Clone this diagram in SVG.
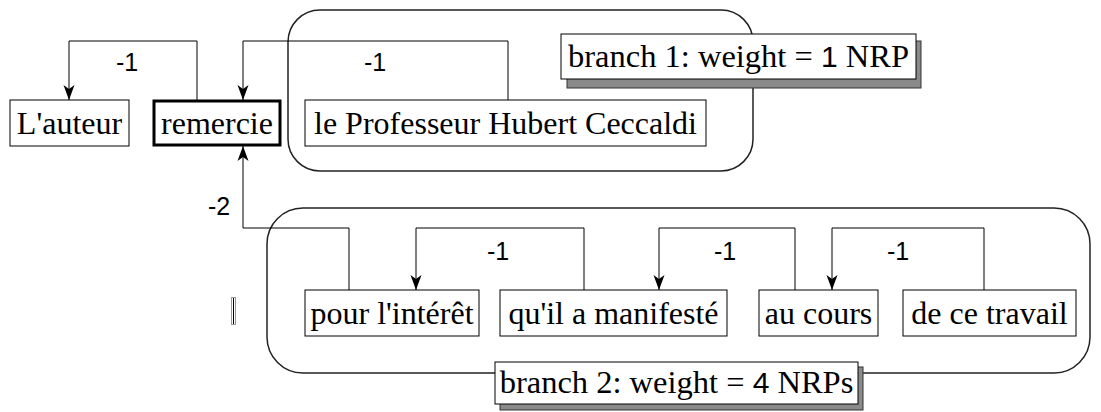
<svg xmlns="http://www.w3.org/2000/svg" width="1101" height="412" viewBox="0 0 1101 412">
  <style>
    .node rect { fill: #fff; stroke: #000; stroke-width: 1; }
    .node rect.head { stroke-width: 3; }
    .node text { font-family: "Liberation Serif", "Times New Roman", serif; font-size: 32px; fill: #000; text-anchor: middle; }
    .branch { fill: none; stroke: #222; stroke-width: 1.5; }
    .tag rect.box { fill: #fff; stroke: #000; stroke-width: 1; }
    .tag rect.shadow { fill: #8a8a8a; stroke: #333; stroke-width: 1; }
    .tag text { font-family: "Liberation Serif", "Times New Roman", serif; font-size: 32.5px; fill: #000; text-anchor: middle; }
    .tag tspan.num { font-family: "Liberation Sans", Arial, sans-serif; font-size: 30px; }
    .edge { fill: none; stroke: #000; stroke-width: 1; marker-end: url(#arrow); }
    .weight { font-family: "Liberation Sans", Arial, sans-serif; font-size: 25px; fill: #000; text-anchor: middle; }
  </style>
  <defs>
    <marker id="arrow" markerUnits="userSpaceOnUse" markerWidth="16" markerHeight="14" refX="15" refY="6" orient="auto" viewBox="0 0 16 12">
      <path d="M0,0.5 L15,6 L0,11.5 L4,6 z" fill="#000"/>
    </marker>
  </defs>

  <!-- branch enclosures -->
  <g id="branch-1-frame">
    <rect class="branch" x="288" y="10" width="465" height="161" rx="32" ry="32"/>
  </g>
  <g id="branch-2-frame">
    <rect class="branch" x="267" y="208" width="823" height="165" rx="36" ry="36"/>
  </g>

  <!-- dependency connectors -->
  <g id="connectors">
    <path class="edge" d="M197,100 V41 H69 V100"/>
    <path class="edge" d="M508,100 V41 H243 V100"/>
    <path class="edge" d="M349,290 V228 H243 V146"/>
    <path class="edge" d="M584,290 V228 H416 V290"/>
    <path class="edge" d="M795,290 V228 H659 V290"/>
    <path class="edge" d="M984,290 V228 H832 V290"/>
    <text class="weight" x="127" y="71">-1</text>
    <text class="weight" x="375" y="71">-1</text>
    <text class="weight" x="219" y="215">-2</text>
    <text class="weight" x="498" y="260">-1</text>
    <text class="weight" x="725" y="260">-1</text>
    <text class="weight" x="898" y="260">-1</text>
  </g>

  <!-- words -->
  <g id="node-auteur" class="node">
    <rect x="10" y="100" width="119" height="46"/>
    <text x="69.5" y="134">L'auteur</text>
  </g>
  <g id="node-remercie" class="node">
    <rect class="head" x="154" y="101" width="126" height="44"/>
    <text x="217" y="134">remercie</text>
  </g>
  <g id="node-professeur" class="node">
    <rect x="305" y="100" width="401" height="46"/>
    <text x="505.5" y="134">le Professeur Hubert Ceccaldi</text>
  </g>
  <g id="node-interet" class="node">
    <rect x="305" y="290" width="174" height="46"/>
    <text x="392" y="324">pour l'intérêt</text>
  </g>
  <g id="node-manifeste" class="node">
    <rect x="500" y="290" width="227" height="46"/>
    <text x="613.5" y="324">qu'il a manifesté</text>
  </g>
  <g id="node-cours" class="node">
    <rect x="759" y="290" width="119" height="46"/>
    <text x="818.5" y="324">au cours</text>
  </g>
  <g id="node-travail" class="node">
    <rect x="903" y="290" width="173" height="46"/>
    <text x="989.5" y="324">de ce travail</text>
  </g>

  <!-- branch weight tags -->
  <g id="tag-branch-1" class="tag">
    <rect class="shadow" x="567" y="41" width="354" height="47"/>
    <rect class="box" x="561" y="34" width="355" height="45"/>
    <text x="738.5" y="67">branch 1: weight = <tspan class="num">1</tspan> NRP</text>
  </g>
  <g id="tag-branch-2" class="tag">
    <rect class="shadow" x="500" y="367" width="363" height="43"/>
    <rect class="box" x="495" y="362" width="363" height="42"/>
    <text x="676.5" y="393">branch 2: weight = <tspan class="num">4</tspan> NRPs</text>
  </g>

  <!-- small bar mark -->
  <g id="mark">
    <rect x="231.5" y="297.5" width="4" height="27" fill="#fff" stroke="#999" stroke-width="1"/>
    <line x1="233.5" y1="298" x2="233.5" y2="324" stroke="#000" stroke-width="1"/>
  </g>
</svg>
